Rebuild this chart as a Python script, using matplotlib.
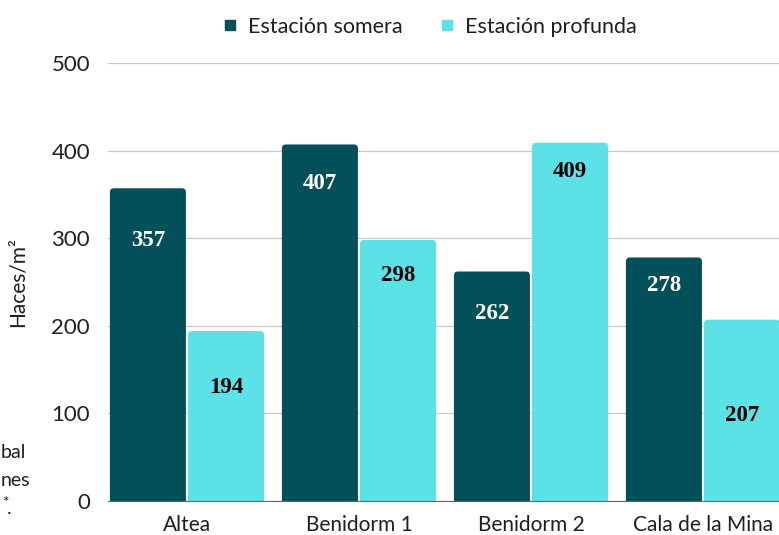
import matplotlib
matplotlib.use("Agg")
import matplotlib.pyplot as plt
from matplotlib.patches import FancyBboxPatch
from matplotlib.lines import Line2D
import numpy as np

sites = ["Altea", "Benidorm 1", "Benidorm 2", "Cala de la Mina"]
shallow = [357, 407, 262, 278]
deep = [194, 298, 409, 207]
series_names = ["Estación somera", "Estación profunda"]
y_ticks = [0, 100, 200, 300, 400, 500]

DARK = "#03505A"
LIGHT = "#5CE1E6"
TXT = "#1f1f1f"
plt.rcParams["font.family"] = ["Lato", "DejaVu Sans"]

W, H = 779, 535
fig = plt.figure(figsize=(W / 100, H / 100), dpi=100)
ax = fig.add_axes([108 / W, 34 / H, (W - 108) / W, 438 / H])

x = np.arange(len(sites))
bw = 0.442
off = 0.227
ax.set_xlim(-0.459, 3.442)
ax.set_ylim(0, 500)

# px per data unit, for rounding the bar corners
px_x = 172.0
px_y = 438 / 500
rad = 4.0

# how far (px) each value label sits below the bar top
drop_shallow = [52, 39, 42, 28]
drop_deep = [56, 36, 29, 96]

def rounded_bars(xs, vals, color, drops, txtcolor):
    bars = ax.bar(xs, vals, bw, color=color, zorder=2)
    for b, v, d in zip(bars, vals, drops):
        b.set_visible(False)
        p = FancyBboxPatch((b.get_x(), -20), b.get_width(), v + 20,
                           boxstyle="round,pad=0,rounding_size=%f" % (rad / px_x),
                           mutation_aspect=(rad / px_y) / (rad / px_x),
                           facecolor=color, edgecolor="none", zorder=2)
        ax.add_patch(p)
        ax.text(b.get_x() + b.get_width() / 2, v - d / px_y, str(v),
                ha="center", va="center", color=txtcolor, fontsize=16.5,
                fontweight="bold", family="Liberation Serif", zorder=3)

rounded_bars(x - off, shallow, DARK, drop_shallow, "white")
rounded_bars(x + off, deep, LIGHT, drop_deep, "black")

ax.set_yticks(y_ticks)
ax.set_xticks(x)
ax.set_xticklabels(sites, fontsize=15, color=TXT)
ax.tick_params(axis="y", labelsize=16, colors=TXT, length=0, pad=13)
ax.tick_params(axis="x", length=0, pad=10)
ax.grid(axis="y", color="#c8c8c8", linewidth=0.9, zorder=0)
for s in ["top", "right", "left"]:
    ax.spines[s].set_visible(False)
ax.spines["bottom"].set_color("#666666")
ax.spines["bottom"].set_zorder(4)
ax.set_axisbelow(True)

fig.text(18 / W, 1 - 282 / H, "Haces/m²", rotation=90, ha="center", va="center",
         fontsize=15, color=TXT)

handles = [Line2D([], [], marker="s", linestyle="none", markersize=7.5, color=c)
           for c in (DARK, LIGHT)]
fig.legend(handles, series_names, loc="center", bbox_to_anchor=(428 / W, 1 - 27 / H),
           ncol=2, frameon=False, fontsize=15.5, handletextpad=0.3, columnspacing=1.6,
           handlelength=1.0, labelcolor=TXT)

# fragments of text at the left edge
fig.text(1 / W, 1 - 452 / H, "bal", ha="left", va="center", fontsize=14, color=TXT)
fig.text(1 / W, 1 - 480 / H, "nes", ha="left", va="center", fontsize=14, color=TXT)
fig.text(2 / W, 1 - 503 / H, "*", ha="left", va="center", fontsize=11, color=TXT)
fig.text(7 / W, 1 - 508 / H, ".", ha="left", va="center", fontsize=14, color=TXT)

fig.savefig("out.png", dpi=100)
